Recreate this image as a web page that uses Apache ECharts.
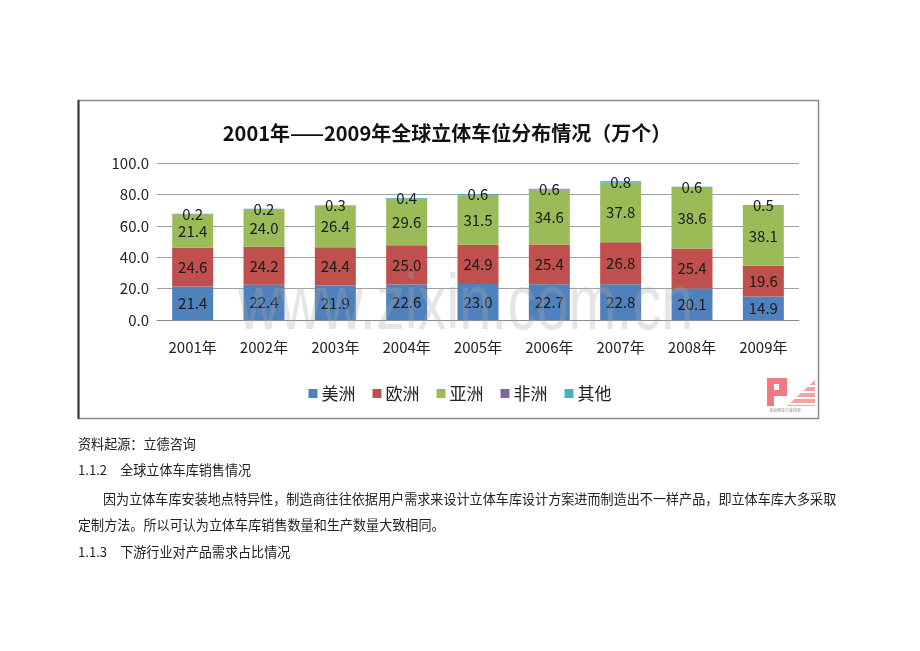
<!DOCTYPE html>
<html>
<head>
<meta charset="utf-8">
<script src="https://cdn.jsdelivr.net/npm/echarts@6/dist/echarts.min.js"></script>
<style>
html,body{margin:0;padding:0;background:#fff;}
#c{position:absolute;left:0;top:0;width:920px;height:651px;}
</style>
</head>
<body>
<div id="c"></div>
<script>
const years = ['2001年','2002年','2003年','2004年','2005年','2006年','2007年','2008年','2009年'];
const seriesNames = ['美洲','欧洲','亚洲','非洲','其他'];
const america = [21.4,22.4,21.9,22.6,23.0,22.7,22.8,20.1,14.9];
const europe  = [24.6,24.2,24.4,25.0,24.9,25.4,26.8,25.4,19.6];
const asia    = [21.4,24.0,26.4,29.6,31.5,34.6,37.8,38.6,38.1];
const africa  = [0.1,0.1,0.1,0.1,0.3,0.3,0.1,0.1,0.1];
const others  = [0.2,0.2,0.3,0.4,0.6,0.6,0.8,0.6,0.5];
const yTicks = [0,20,40,60,80,100];
const titleText = '2001年——2009年全球立体车位分布情况（万个）';
const sourceText = '资料起源：立德咨询';
const heading1 = '1.1.2　全球立体车库销售情况';
const para1 = '因为立体车库安装地点特异性，制造商往往依据用户需求来设计立体车库设计方案进而制造出不一样产品，即立体车库大多采取';
const para2 = '定制方法。所以可认为立体车库销售数量和生产数量大致相同。';
const heading2 = '1.1.3　下游行业对产品需求占比情况';
const watermark = 'www.zixin.com.cn';

const colors = ['#4F81BD','#C0504D','#9BBB59','#8064A2','#4BACC6'];
const values = [america, europe, asia, africa, others];
const FONT = '"Noto Sans CJK SC", "Noto Sans", sans-serif';

const chart = echarts.init(document.getElementById('c'), null, {renderer:'canvas'});

const series = seriesNames.map((n,i)=>({
  name:n, type:'bar', stack:'total', data:values[i], barWidth:41,
  itemStyle:{color:colors[i]},
  label:{
    show: i !== 3, position:'inside', color:'#1a1a1a', fontSize:15, fontFamily:FONT,
    formatter: p => p.value.toFixed(1)
  },
  z: 2
}));

const docText = (t, x, y) => ({
  type:'text', left:x, top:y, silent:true,
  style:{text:t, fill:'#222', font:'13.1px ' + FONT, textVerticalAlign:'middle'}
});

chart.setOption({
  backgroundColor:'#fff',
  animation:false,
  color:colors,
  title:{
    text:titleText, left:442, top:118, textAlign:'center',
    textStyle:{fontSize:20, fontWeight:'bold', color:'#111', fontFamily:FONT}
  },
  legend:{
    data:seriesNames, left:'center', top:380, itemWidth:9, itemHeight:9, itemGap:17,
    icon:'rect',
    textStyle:{fontSize:17, color:'#222', fontFamily:FONT, padding:[0,0,0,-1]}
  },
  grid:{left:157, right:121, top:163, bottom:331, containLabel:false},
  xAxis:{
    type:'category', data:years,
    axisLine:{lineStyle:{color:'#8c8c8c', width:1}},
    axisTick:{show:false},
    axisLabel:{fontSize:15, color:'#222', margin:20, fontFamily:FONT}
  },
  yAxis:{
    type:'value', min:yTicks[0], max:yTicks[yTicks.length-1], interval:20,
    axisLine:{show:false}, axisTick:{show:false},
    splitLine:{lineStyle:{color:'#a0a0a0', width:1}},
    axisLabel:{fontSize:15, color:'#222', margin:8, fontFamily:FONT, formatter:v=>v.toFixed(1)}
  },
  series:series,
  graphic:[
    {type:'rect', shape:{x:78.5, y:100.5, width:740, height:318}, silent:true, z:-1,
      style:{fill:'none', stroke:'#8a8a8a', lineWidth:1.5}},
    {type:'line', shape:{x1:78.5, y1:100, x2:78.5, y2:419}, silent:true, style:{stroke:'#333', lineWidth:2}},
    {type:'text', left:238, top:268, silent:true, z:100, scaleX:0.74,
      style:{text:watermark, fill:'rgba(170,170,170,0.30)', font:'78px "Liberation Sans", Arial, sans-serif'}},
    // logo
    {type:'group', left:765, top:376, silent:true, children:[
      {type:'rect', shape:{x:0, y:0, width:50, height:40}, style:{fill:'#fff'}},
      {type:'rect', shape:{x:2, y:2, width:7, height:28}, style:{fill:'#f07a80'}},
      {type:'rect', shape:{x:2, y:2, width:16, height:6}, style:{fill:'#f07a80'}},
      {type:'rect', shape:{x:2, y:14, width:16, height:6}, style:{fill:'#f07a80'}},
      {type:'rect', shape:{x:14, y:2, width:8, height:18}, style:{fill:'#f07a80'}},
      {type:'polygon', shape:{points:[[22,30],[50,4],[50,30]]}, style:{fill:'#f5a0a4'}},
      {type:'rect', shape:{x:24, y:9, width:26, height:2}, style:{fill:'#fff'}},
      {type:'rect', shape:{x:24, y:15, width:26, height:2}, style:{fill:'#fff'}},
      {type:'rect', shape:{x:24, y:21, width:26, height:2}, style:{fill:'#fff'}},
      {type:'rect', shape:{x:24, y:27, width:26, height:2}, style:{fill:'#fff'}},
      {type:'text', left:4, top:32, style:{text:'北京停车行业协会', fill:'#777', font:'4px ' + FONT}}
    ]},
    docText(sourceText, 78, 437),
    docText(heading1, 78, 463),
    docText(para1, 103, 492),
    docText(para2, 78, 518),
    docText(heading2, 78, 545)
  ]
});
</script>
</body>
</html>
